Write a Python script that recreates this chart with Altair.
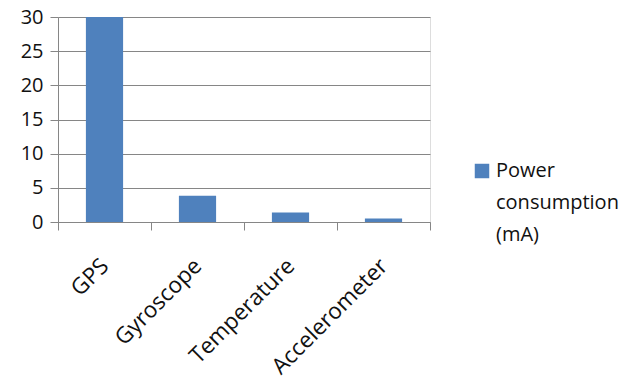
import altair as alt
import pandas as pd

sensors = ["GPS", "Gyroscope", "Temperature", "Accelerometer"]
current_ma = [30, 3.85, 1.4, 0.5]
series = "Power consumption (mA)"

df = pd.DataFrame({"sensor": sensors, "value": current_ma})
legend_df = pd.DataFrame({"series": [series]})

FONT = "Open Sans"
GRID = "#868686"
TEXT = "#111111"
BAR = "#4F81BD"

# full-width category bands so the ticks fall on category boundaries;
# each bar takes 40% of its band
bars = alt.Chart(df).mark_bar(color=BAR, width={"band": 0.4}).encode(
    x=alt.X(
        "sensor:N",
        sort=sensors,
        title=None,
        scale=alt.Scale(paddingInner=0, paddingOuter=0),
        axis=alt.Axis(
            labelAngle=-45,
            labelAlign="right",
            labelBaseline="middle",
            labelPadding=32,
            labelFontSize=22.5,
            labelFont=FONT,
            labelColor=TEXT,
            tickBand="extent",
            tickSize=8,
            tickColor=GRID,
            domainColor=GRID,
            grid=False,
        ),
    ),
    y=alt.Y(
        "value:Q",
        title=None,
        scale=alt.Scale(domain=[0, 30], nice=False),
        axis=alt.Axis(
            values=[0, 5, 10, 15, 20, 25, 30],
            labelFontSize=20,
            labelFont=FONT,
            labelColor=TEXT,
            labelPadding=7,
            tickSize=8,
            tickColor=GRID,
            domainColor=GRID,
            gridColor=GRID,
            grid=True,
        ),
    ),
)

# legend: swatch plus a three-line label to the right of the plot
legend_swatch = alt.Chart(legend_df).mark_square(
    color=BAR, size=210, opacity=1, clip=False
).encode(x=alt.value(424), y=alt.value(154))

legend_text = alt.Chart(legend_df).mark_text(
    align="left",
    baseline="alphabetic",
    font=FONT,
    fontSize=20,
    color=TEXT,
    lineBreak=" ",
    lineHeight=32,
    clip=False,
).encode(x=alt.value(438), y=alt.value(160), text="series:N")

chart = alt.layer(bars, legend_swatch, legend_text).properties(
    width=372,
    height=205,
    autosize=alt.AutoSizeParams(type="none"),
    padding={"left": 58, "top": 17, "right": 210, "bottom": 162},
).configure_view(stroke=None).configure(background="white")

chart.save("out.html", embed_options={"renderer": "svg", "actions": False})
